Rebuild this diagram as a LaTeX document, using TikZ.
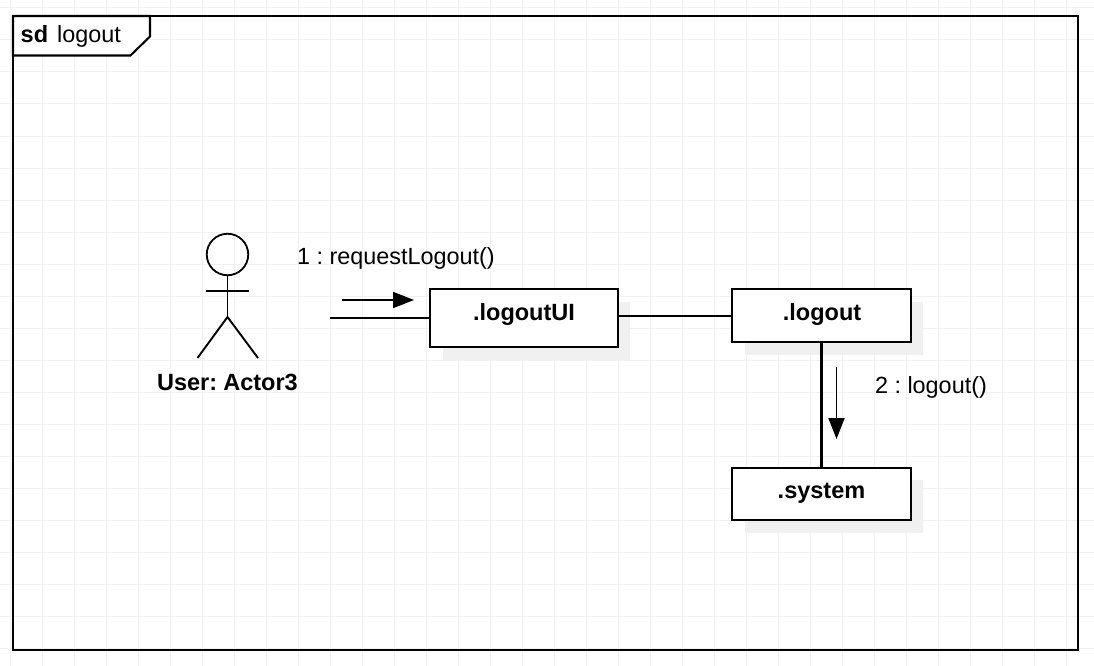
\documentclass[tikz,border=0pt]{standalone}
\usepackage{fontspec}
\setmainfont{Liberation Sans}
\usetikzlibrary{arrows.meta,calc}
\definecolor{gridc}{HTML}{F1F1F1}
\definecolor{shadowc}{HTML}{F0F0F0}
\newcommand{\labfont}{\fontsize{23.4}{28}\selectfont\setlength{\spaceskip}{6.4pt}\setlength{\xspaceskip}{6.4pt}}
\newcommand{\boldlabfont}{\fontsize{23.5}{28}\selectfont\bfseries\setlength{\spaceskip}{6.2pt}\setlength{\xspaceskip}{6.2pt}}
\tikzset{
  ln/.style={draw=black,line width=2.05pt},
  thin ln/.style={draw=black,line width=1.9pt},
  objbox/.style={draw=black,line width=2.05pt,fill=white,minimum height=#1,inner sep=0pt,outer sep=0pt,anchor=north west},
  shade box/.style={fill=shadowc,draw=none},
  lab/.style={font=\labfont,inner sep=0pt,text=black},
  blab/.style={font=\boldlabfont,inner sep=0pt,text=black},
  msg/.style={draw=black,line width=1.9pt,-{Triangle[length=21pt,width=16pt,fill=black]}},
}
\begin{document}
\begin{tikzpicture}[x=1pt,y=-1pt]
\useasboundingbox (0,0) rectangle (1094,666);
\fill[white] (0,0) rectangle (1094,666);
% grid
\foreach \gx in {0,...,33} \draw[gridc,line width=1pt] ({10.5+32*\gx},0) -- ({10.5+32*\gx},666);
\foreach \gy in {0,...,20} \draw[gridc,line width=1pt] (0,{8+32*\gy}) -- (1094,{8+32*\gy});
% frame
\draw[ln] (13,16) rectangle (1078,650);
\draw[ln,fill=white] (13,16) -- (150,16) -- (150,36.5) -- (130.5,55.5) -- (13,55.5) -- cycle;
\node[blab,anchor=base west] (sd) at (20.5,42.5) {sd};
\node[lab,anchor=base west] (fname) at (57,42.5) {logout};
% shadows
\fill[shade box] (443,302) rectangle (630,360);
\fill[shade box] (745,302) rectangle (923,355);
\fill[shade box] (745,480) rectangle (923,533);
% actor
\node[draw=black,line width=1.8pt,circle,minimum size=41.5pt,inner sep=0pt,outer sep=0pt] (head) at (227.5,254.5) {};
\coordinate (hip) at (227.5,317);
\coordinate (armL) at (206,291);
\coordinate (armR) at (249,291);
\coordinate (footL) at (197.5,358);
\coordinate (footR) at (258,358);
\draw[thin ln] (head.south) -- (hip);
\draw[thin ln] (armL) -- (armR);
\draw[thin ln] (footL) -- (hip) -- (footR);
\node[blab,anchor=base] (actorlab) at (227.5,390.5) {User: Actor3};
% objects
\node[objbox=58pt,minimum width=188pt] (ui) at (430,289) {};
\node[objbox=53pt,minimum width=179pt] (lo) at (732,289) {};
\node[objbox=52pt,minimum width=179pt] (sy) at (732,468) {};
\node[blab,anchor=base] (uil) at (524,320) {.logoutUI};
\node[blab,anchor=base] (lol) at (822,320) {.logout};
\node[blab,anchor=base] (syl) at (821.5,498.5) {.system};
% connectors
\coordinate (free) at (329.5,318);
\draw[thin ln] (free) -- (free -| ui.west);
\coordinate (uiE) at (ui.east |- 0,316);
\coordinate (loW) at (lo.west |- 0,316);
\draw[thin ln] (uiE) -- (loW);
\draw[ln] (lo.south) -- (sy.north);
% messages
\coordinate (m1a) at (342,300);
\coordinate (m1b) at (414,300);
\draw[msg] (m1a) -- (m1b);
\node[lab,anchor=base west] (m1) at (297,264.5) {1 : requestLogout()};
\coordinate (m2a) at (836.5,367);
\coordinate (m2b) at (836.5,439);
\draw[msg] (m2a) -- (m2b);
\node[lab,anchor=base west] (m2) at (875,393.5) {2 : logout()};
\end{tikzpicture}
\end{document}
